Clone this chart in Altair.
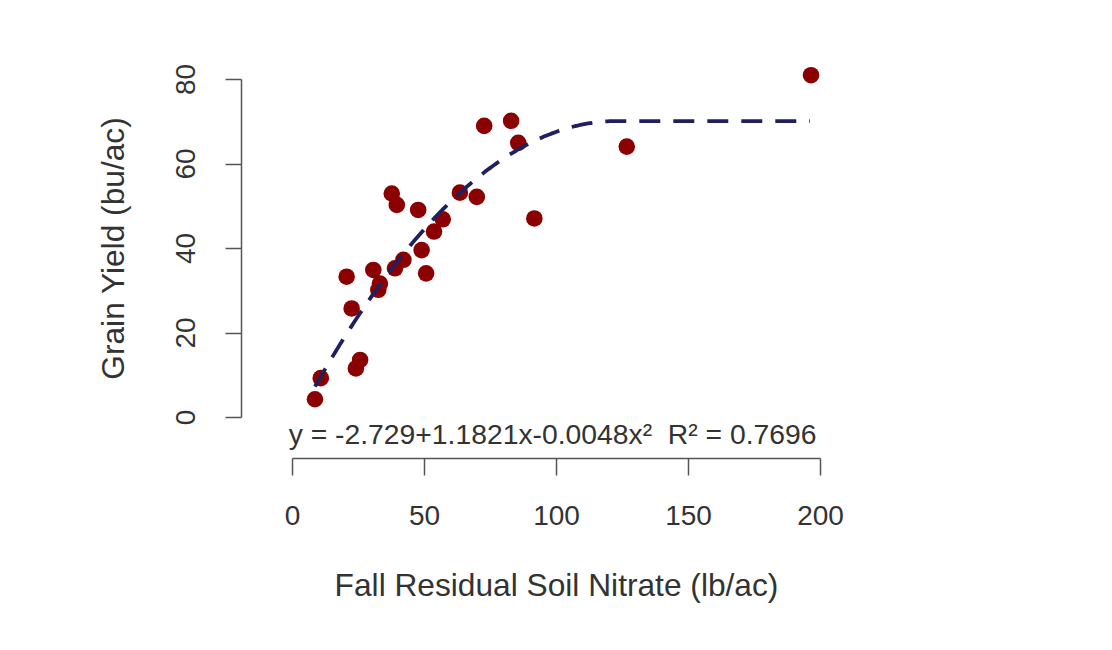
import altair as alt
import pandas as pd

# Values
nitrate = [8.7, 10.9, 20.7, 22.6, 24.2, 25.8, 30.8, 32.7, 33.3, 37.8, 39.0, 39.7, 42.2,
           47.8, 49.1, 50.8, 53.8, 57.1, 63.6, 70.0, 72.8, 83.0, 85.7, 91.8, 126.8, 196.6]
grain_yield = [4.2, 9.2, 33.2, 25.7, 11.5, 13.5, 34.8, 30.1, 31.6, 52.9, 35.2, 50.2, 37.2,
               49.0, 39.5, 34.0, 43.9, 46.8, 53.1, 52.1, 68.9, 70.1, 64.9, 47.0, 64.0, 80.9]

# Quadratic-plateau fit printed on the chart
fit_intercept = -2.729
fit_linear = 1.1821
fit_quadratic = -0.0048
equation_label = "y = -2.729+1.1821x-0.0048x²\u00a0\u00a0R² = 0.7696"

x_ticks = [0, 50, 100, 150, 200]
y_ticks = [0, 20, 40, 60, 80]

df = pd.DataFrame({"nitrate": nitrate, "yield": grain_yield})
join_x = -fit_linear / (2 * fit_quadratic)

FONT = "Liberation Sans"
AX = "#555555"
TXT = "#333333"

x_enc = alt.X(
    "nitrate:Q",
    scale=alt.Scale(domain=[0, 200], nice=False, zero=False),
    axis=alt.Axis(
        values=x_ticks, offset=41, tickSize=17, labelPadding=41,
        labelBaseline="middle", labelAlign="center", labelFlush=False,
        labelOverlap=False, titlePadding=40,
        title="Fall Residual Soil Nitrate (lb/ac)",
    ),
)
y_enc = alt.Y(
    "yield:Q",
    scale=alt.Scale(domain=[0, 80], nice=False, zero=False),
    axis=alt.Axis(
        values=y_ticks, offset=51, tickSize=16, labelPadding=39,
        labelAngle=270, labelBaseline="middle", labelAlign="center",
        labelFlush=False, labelOverlap=False, titlePadding=42,
        title="Grain Yield (bu/ac)",
    ),
)

points = alt.Chart(df).mark_circle(size=275, color="#8B0000", opacity=1).encode(
    x=x_enc, y=y_enc
)

curve_expr = (
    f"datum.nitrate < {join_x} ? "
    f"{fit_intercept} + {fit_linear}*datum.nitrate + {fit_quadratic}*datum.nitrate*datum.nitrate : "
    f"{fit_intercept} + {fit_linear}*{join_x} + {fit_quadratic}*{join_x}*{join_x}"
)
curve = (
    alt.Chart(alt.sequence(min(nitrate), max(nitrate) + 0.01, 0.5, as_="nitrate"))
    .transform_calculate(**{"yield": curve_expr})
    .mark_line(color="#20205F", strokeWidth=3.8, strokeDash=[21, 13])
    .encode(x=x_enc, y=y_enc)
)

eq = (
    alt.Chart(pd.DataFrame({"label": [equation_label]}))
    .mark_text(font=FONT, fontSize=28.3, color=TXT, align="center", baseline="middle")
    .encode(x=alt.datum(98.7), y=alt.datum(-4.5), text="label:N")
)

chart = (
    alt.layer(points, curve, eq)
    .properties(
        width=528, height=338,
        background="white",
        autosize=alt.AutoSizeParams(type="none"),
        padding={"left": 284, "top": 71, "right": 284, "bottom": 225},
    )
    .configure_view(stroke=None)
    .configure_axis(
        grid=False, domainColor=AX, tickColor=AX, domainWidth=1.5, tickWidth=1.5,
        labelFont=FONT, labelFontSize=28, labelColor=TXT,
        titleFont=FONT, titleFontSize=31.7, titleFontWeight="normal", titleColor=TXT,
    )
)

chart.save("out.html", embed_options={"renderer": "svg", "actions": False})
